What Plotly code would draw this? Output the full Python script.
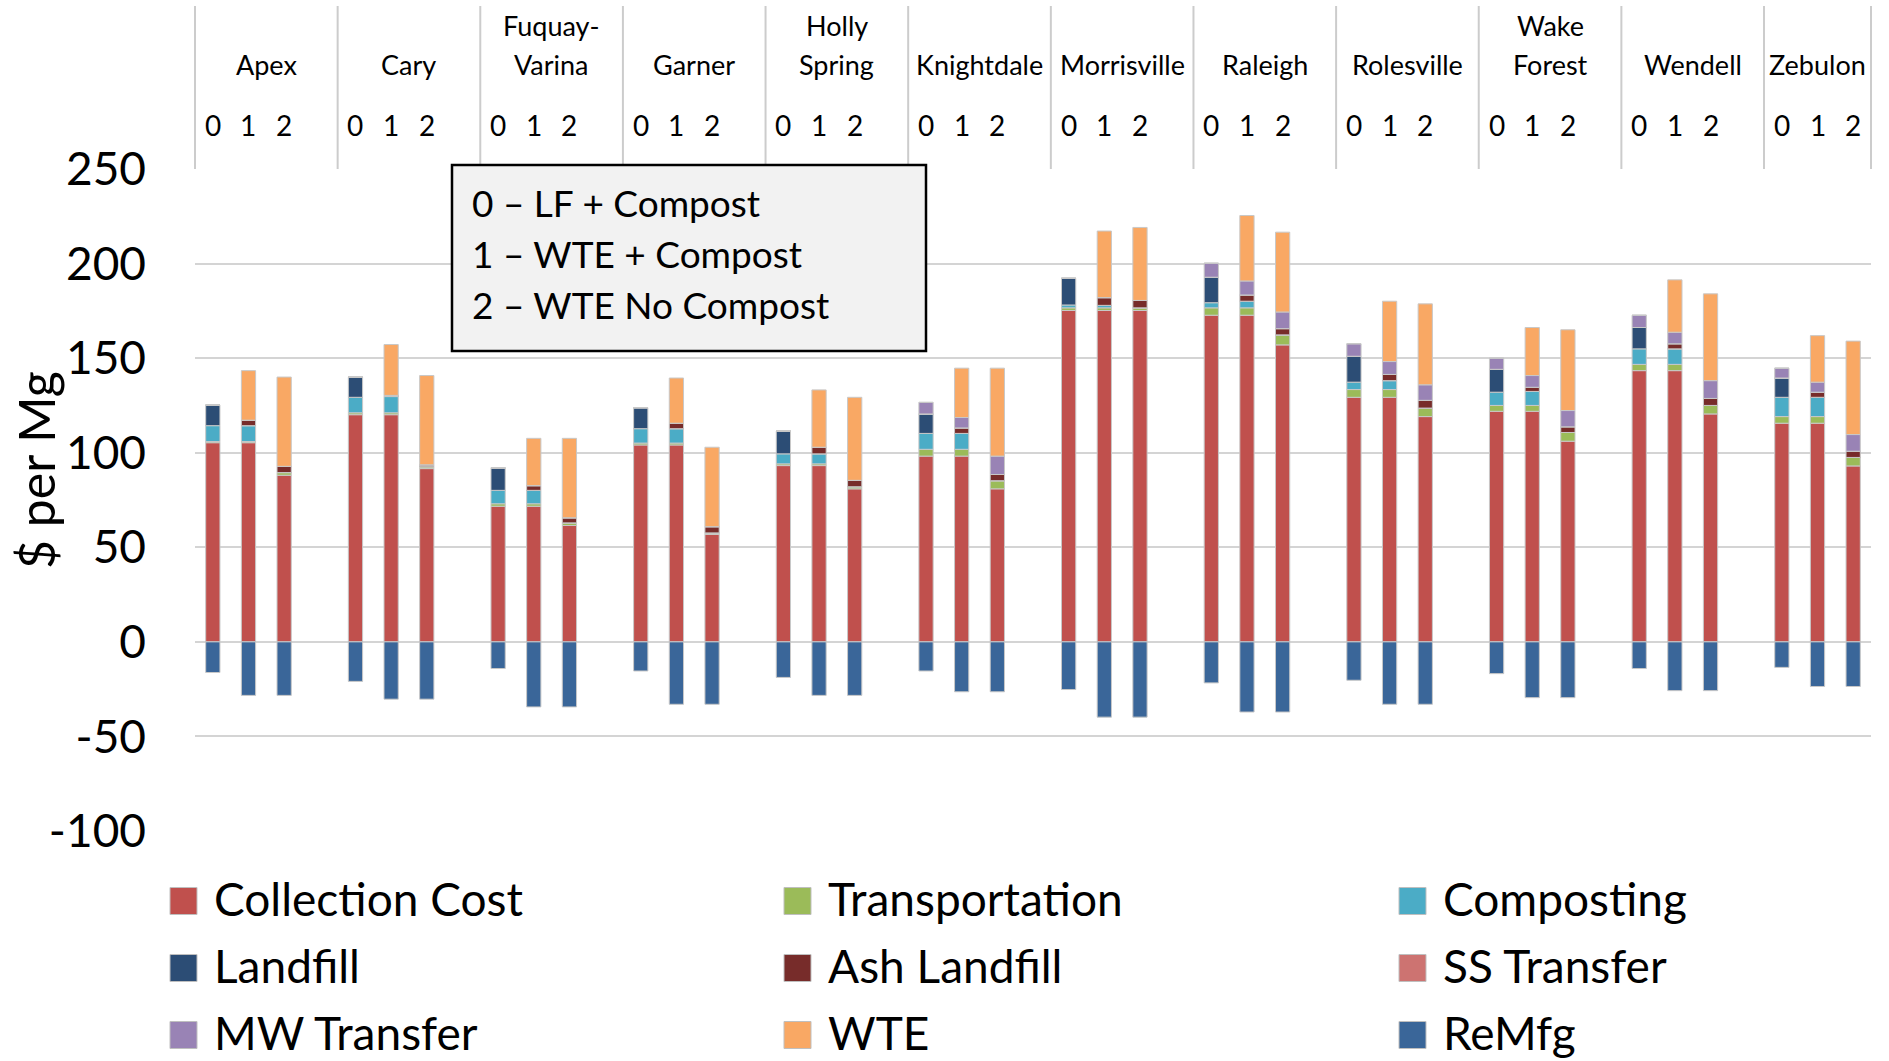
import plotly.graph_objects as go

# ---- data: cost components ($ per Mg) per town and scenario (0, 1, 2) ----
towns = ["Apex", "Cary", "Fuquay-\nVarina", "Garner", "Holly\nSpring", "Knightdale",
         "Morrisville", "Raleigh", "Rolesville", "Wake\nForest", "Wendell", "Zebulon"]
scenarios = ["0", "1", "2"]
scenario_notes = ["0 \u2013 LF + Compost", "1 \u2013 WTE + Compost", "2 \u2013 WTE No Compost"]

y_ticks = [-100, -50, 0, 50, 100, 150, 200, 250]
y_tick_text = ["-100", "-50", "0", "50", "100", "150", "200", "250"]

collection_cost = [105.3, 105.3, 88.1,  120.1, 120.1, 91.6,  71.7, 71.7, 61.5,  104.1, 104.1, 56.8,
                   93.2, 93.2, 80.9,  98.2, 98.2, 80.9,  175.2, 175.2, 175.2,  172.7, 172.7, 157.0,
                   129.3, 129.3, 119.1,  121.9, 121.9, 106.1,  143.4, 143.4, 120.5,  115.6, 115.6, 93.0]
transportation = [0.6, 0.6, 1.4,  1.0, 1.0, 1.0,  1.3, 1.3, 1.4,  1.0, 1.0, 0.8,
                  0.9, 0.9, 1.1,  3.6, 3.6, 4.3,  1.4, 1.4, 1.4,  3.9, 3.9, 5.3,
                  4.1, 4.1, 4.5,  3.1, 3.1, 4.6,  3.3, 3.3, 4.5,  3.5, 3.5, 4.5]
composting = [8.4, 8.4, 0,  8.2, 8.6, 0,  7.1, 7.1, 0,  7.6, 7.6, 0,
              5.3, 5.3, 0,  8.4, 8.4, 0,  1.5, 1.3, 0,  2.7, 3.5, 0,
              3.9, 4.7, 0,  7.0, 7.4, 0,  8.2, 8.2, 0,  10.2, 10.2, 0]
landfill = [10.9, 0, 0,  10.7, 0, 0,  11.9, 0, 0,  11.1, 0, 0,
            12.1, 0, 0,  10.3, 0, 0,  14.1, 0, 0,  13.5, 0, 0,
            13.7, 0, 0,  12.1, 0, 0,  11.3, 0, 0,  10.2, 0, 0]
ash_landfill = [0, 2.9, 3.3,  0, 0.6, 1.0,  0, 2.5, 2.7,  0, 2.9, 3.3,
                0, 3.5, 3.4,  0, 2.9, 3.3,  0, 4.1, 3.9,  0, 3.3, 3.3,
                0, 3.3, 4.1,  0, 2.2, 3.0,  0, 2.7, 3.7,  0, 2.7, 3.3]
ss_transfer = [0] * 36
mw_transfer = [0, 0, 0,  0, 0, 0,  0, 0, 0,  0, 0, 0,
               0, 0, 0,  6.1, 5.5, 9.7,  0, 0, 0,  7.4, 7.4, 8.8,
               6.6, 6.8, 8.2,  5.9, 6.2, 8.6,  6.5, 6.1, 9.4,  5.2, 5.3, 8.8]
wte = [0, 26.2, 47.2,  0, 26.9, 47.2,  0, 25.0, 42.0,  0, 23.9, 42.0,
       0, 30.3, 43.9,  0, 26.1, 46.5,  0, 35.2, 38.6,  0, 34.6, 42.2,
       0, 31.9, 42.8,  0, 25.4, 42.7,  0, 27.7, 45.9,  0, 24.6, 49.4]
remfg = [-16.2, -28.3, -28.3,  -20.9, -30.3, -30.3,  -14.1, -34.4, -34.4,  -15.4, -33.0, -33.0,
         -18.8, -28.3, -28.3,  -15.4, -26.4, -26.4,  -25.2, -39.8, -39.8,  -21.7, -37.1, -37.1,
         -20.3, -33.0, -33.0,  -16.8, -29.5, -29.5,  -14.1, -25.8, -25.8,  -13.5, -23.6, -23.6]

series = [
    ("Collection Cost", collection_cost, "#C0504D"),
    ("Transportation", transportation, "#9BBB59"),
    ("Composting", composting, "#4BACC6"),
    ("Landfill", landfill, "#2C4D75"),
    ("Ash Landfill", ash_landfill, "#772C2A"),
    ("SS Transfer", ss_transfer, "#CD7371"),
    ("MW Transfer", mw_transfer, "#9983B5"),
    ("WTE", wte, "#F9A864"),
    ("ReMfg", remfg, "#3A6699"),
]

# ---- geometry ----
W, H = 1889, 1061
ML, MR, MT, MB = 195, 18, 169, 230
PW, PH = W - ML - MR, H - MT - MB
SLOTS = 4                      # three bars plus a gap per town
XMIN, XMAX = -0.5, SLOTS * (len(towns) - 1) + len(scenarios) - 0.5

FONT = "Lato"

def px(page_x):
    return (page_x - ML) / PW

def py(page_y):
    return (H - MB - page_y) / PH

def xfrac(xval):
    return (xval - XMIN) / (XMAX - XMIN)

xpos = [SLOTS * i + j for i in range(len(towns)) for j in range(len(scenarios))]

fig = go.Figure()
for name, vals, color in series:
    fig.add_trace(go.Bar(
        x=xpos, y=vals, name=name, width=0.4,
        marker=dict(color=color, line=dict(color="#C8C8C8", width=1)),
        showlegend=False,
    ))

shapes = []
annotations = []

# town header: boundaries, names and scenario numbers
bounds = [SLOTS * i - 0.5 for i in range(len(towns))] + [XMAX]
for b in bounds:
    shapes.append(dict(type="line", xref="paper", yref="paper",
                       x0=xfrac(b), x1=xfrac(b), y0=py(6), y1=1.0,
                       line=dict(color="#CCCCCC", width=2)))
for i, town in enumerate(towns):
    cx = (bounds[i] + bounds[i + 1]) / 2
    lines = town.split("\n")
    ys = [65] if len(lines) == 1 else [25, 65]
    for ln, yy in zip(lines, ys):
        annotations.append(dict(x=cx, y=py(yy), xref="x", yref="paper", text=ln,
                                showarrow=False, xanchor="center", yanchor="middle",
                                font=dict(family=FONT, size=27, color="black")))
    for j, s in enumerate(scenarios):
        annotations.append(dict(x=SLOTS * i + j, y=py(125), xref="x", yref="paper", text=s,
                                showarrow=False, xanchor="center", yanchor="middle",
                                font=dict(family=FONT, size=28, color="black")))

# scenario key box
shapes.append(dict(type="rect", xref="paper", yref="paper",
                   x0=px(452), x1=px(926), y0=py(351), y1=py(165),
                   fillcolor="#F2F2F2", line=dict(color="black", width=2.5), layer="above"))
for k, note in enumerate(scenario_notes):
    annotations.append(dict(x=px(470), y=py(202 + 51 * k), xref="paper", yref="paper", text=note,
                            showarrow=False, xanchor="left", yanchor="middle",
                            font=dict(family=FONT, size=37, color="black")))

# legend (three columns, row-major order)
col_x = [170, 784, 1399]
row_y = [901, 968, 1035]
SQ = 27
for k, (name, _, color) in enumerate(series):
    r, c = divmod(k, 3)
    x0 = col_x[c]
    yc = row_y[r]
    shapes.append(dict(type="rect", xref="paper", yref="paper",
                       x0=px(x0), x1=px(x0 + SQ), y0=py(yc + SQ / 2), y1=py(yc - SQ / 2),
                       fillcolor=color, line=dict(color="#BFBFBF", width=1)))
    annotations.append(dict(x=px(x0 + 42), y=py(yc - 3), xref="paper", yref="paper", text=name,
                            showarrow=False, xanchor="left", yanchor="middle",
                            font=dict(family=FONT, size=46, color="black")))

# axis title
annotations.append(dict(x=px(36), y=py(470), xref="paper", yref="paper", text="$ per Mg",
                        textangle=-90, showarrow=False, xanchor="center", yanchor="middle",
                        font=dict(family=FONT, size=50, color="black")))

fig.update_layout(
    width=W, height=H,
    margin=dict(l=ML, r=MR, t=MT, b=MB, pad=0),
    barmode="relative",
    paper_bgcolor="white", plot_bgcolor="white",
    font=dict(family=FONT, color="black"),
    shapes=shapes, annotations=annotations,
    showlegend=False,
    xaxis=dict(range=[XMIN, XMAX], showticklabels=False, showgrid=False,
               zeroline=False, showline=False, ticks=""),
    yaxis=dict(range=[-100, 250], tickvals=y_ticks, ticktext=y_tick_text,
               showgrid=True, gridcolor="#D4D4D4", gridwidth=2,
               zeroline=False, showline=False, ticks="",
               ticklabelstandoff=48,
               tickfont=dict(family=FONT, size=46, color="black")),
)

fig.write_html("out.html")
